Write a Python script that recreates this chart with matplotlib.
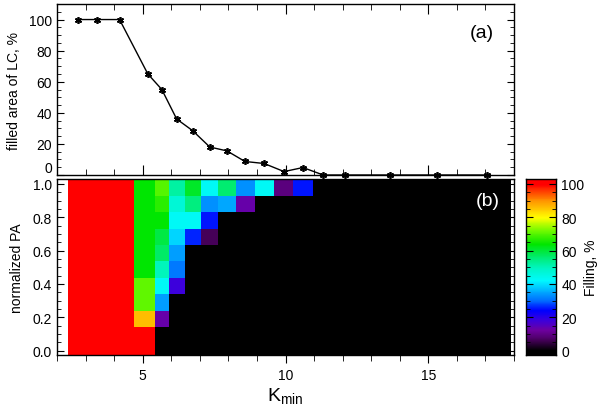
import numpy as np
import matplotlib
matplotlib.use('Agg')
import matplotlib.pyplot as plt
from matplotlib.colors import LinearSegmentedColormap, Normalize
from matplotlib.ticker import MultipleLocator

plt.rcParams['font.family'] = ['Liberation Sans', 'DejaVu Sans']
plt.rcParams['mathtext.default'] = 'regular'

# Kmin grid and filled area of the loss cone (%)
k_min = [2.72, 3.39, 4.19, 5.18, 5.67, 6.19, 6.75, 7.35, 7.95, 8.58,
         9.25, 9.95, 10.61, 11.32, 12.09, 13.67, 15.32, 17.04]
filled_area = [100, 100, 100, 65, 55, 36, 28.5, 18, 15.5, 8.7,
               7.4, 2.2, 4.8, 0, 0, 0, 0, 0]

# normalized pitch angle bins (centres)
pa = [-0.007, 0.092, 0.190, 0.289, 0.387, 0.486, 0.584, 0.683, 0.781, 0.880, 0.979]

# filling (%) per PA bin, listed from the top row (largest PA) down
filling_rows = [
    [100, 100, 100, 64, 70, 52, 61, 43, 56, 33, 43, 9, 25, 0, 0, 0, 0, 0],
    [100, 100, 100, 64, 67, 47, 55, 33, 35, 13, 0, 0, 0, 0, 0, 0, 0, 0],
    [100, 100, 100, 64, 64, 43, 43, 25, 0, 0, 0, 0, 0, 0, 0, 0, 0, 0],
    [100, 100, 100, 64, 59, 39, 26, 6, 0, 0, 0, 0, 0, 0, 0, 0, 0, 0],
    [100, 100, 100, 64, 57, 34, 0, 0, 0, 0, 0, 0, 0, 0, 0, 0, 0, 0],
    [100, 100, 100, 64, 50, 31, 0, 0, 0, 0, 0, 0, 0, 0, 0, 0, 0, 0],
    [100, 100, 100, 71, 43, 18, 0, 0, 0, 0, 0, 0, 0, 0, 0, 0, 0, 0],
    [100, 100, 100, 71, 34, 0, 0, 0, 0, 0, 0, 0, 0, 0, 0, 0, 0, 0],
    [100, 100, 100, 86, 13, 0, 0, 0, 0, 0, 0, 0, 0, 0, 0, 0, 0, 0],
    [100, 100, 100, 100, 0, 0, 0, 0, 0, 0, 0, 0, 0, 0, 0, 0, 0, 0],
    [100, 100, 100, 100, 0, 0, 0, 0, 0, 0, 0, 0, 0, 0, 0, 0, 0, 0],
]


def bin_edges(c):
    c = np.asarray(c, dtype=float)
    mid = (c[:-1] + c[1:]) / 2
    return np.concatenate([[c[0] - (c[1] - c[0]) / 2], mid,
                           [c[-1] + (c[-1] - c[-2]) / 2]])


# IDL-like rainbow with black at the bottom
nodes = [(0.00, (0, 0, 0)), (0.06, (70, 0, 90)), (0.12, (110, 0, 160)),
         (0.18, (60, 0, 220)), (0.24, (0, 0, 255)), (0.30, (0, 110, 255)),
         (0.36, (0, 180, 255)), (0.42, (0, 250, 255)), (0.50, (0, 245, 190)),
         (0.57, (0, 235, 100)), (0.64, (0, 230, 0)), (0.72, (110, 250, 0)),
         (0.80, (255, 255, 0)), (0.90, (255, 150, 0)), (1.00, (255, 0, 0))]
cmap = LinearSegmentedColormap.from_list(
    'idl_rainbow', [(p, tuple(v / 255 for v in rgb)) for p, rgb in nodes])
norm = Normalize(0, 100)

W, H = 603, 406
fig = plt.figure(figsize=(W / 100, H / 100), dpi=100)
ax1 = fig.add_axes([57 / W, 1 - 176 / H, 457 / W, 171 / H])
ax2 = fig.add_axes([57 / W, 1 - 355.7 / H, 457 / W, 175.7 / H])
cax = fig.add_axes([526 / W, 1 - 355.7 / H, 29.7 / W, 175.7 / H])

# (a) filled area vs Kmin
ax1.plot(k_min, filled_area, color='black', lw=1.0,
         marker=(6, 2, 0), ms=5, mew=1.2, clip_on=False)
ax1.set_xlim(2, 18)
ax1.set_ylim(0, 110)
ax1.set_yticks([0, 20, 40, 60, 80, 100])
ax1.yaxis.set_minor_locator(MultipleLocator(5))
ax1.xaxis.set_major_locator(MultipleLocator(5))
ax1.xaxis.set_minor_locator(MultipleLocator(1))
ax1.tick_params(which='both', direction='in', top=True, right=True,
                labelbottom=False, labelsize=10)
ax1.tick_params(axis='y', which='major', length=5)
ax1.tick_params(axis='y', which='minor', length=3)
ax1.tick_params(axis='x', which='major', length=7)
ax1.tick_params(axis='x', which='minor', length=4.5)
ax1.set_ylabel('filled area of LC, %', fontsize=10, labelpad=6)
ax1.text(0.93, 0.835, '(a)', transform=ax1.transAxes, fontsize=14,
         ha='center', va='center')
# lift the "0" label a little so it clears the 1.0 label below
ax1.get_yticklabels()[0].set_va('bottom')

# (b) filling map
grid = np.array(filling_rows[::-1], dtype=float)
ax2.pcolormesh(bin_edges(k_min), bin_edges(pa), grid, cmap=cmap, norm=norm)
ax2.set_xlim(2, 18)
ax2.set_ylim(-0.025, 1.03)
ax2.set_yticks([0.0, 0.2, 0.4, 0.6, 0.8, 1.0])
ax2.set_yticklabels(['0.0', '0.2', '0.4', '0.6', '0.8', '1.0'])
ax2.yaxis.set_minor_locator(MultipleLocator(0.05))
ax2.xaxis.set_major_locator(MultipleLocator(5))
ax2.xaxis.set_minor_locator(MultipleLocator(1))
ax2.tick_params(axis='y', which='both', direction='in', right=True, labelsize=10)
ax2.tick_params(axis='y', which='major', length=5)
ax2.tick_params(axis='y', which='minor', length=3)
ax2.tick_params(axis='x', which='both', direction='out', top=False, labelsize=10)
ax2.tick_params(axis='x', which='major', length=6)
ax2.tick_params(axis='x', which='minor', length=4)
ax2.set_ylabel('normalized PA', fontsize=10, labelpad=6)
ax2.set_xlabel('K$_{min}$', fontsize=14, labelpad=2)
ax2.text(0.943, 0.875, '(b)', transform=ax2.transAxes, fontsize=14,
         color='white', ha='center', va='center')

# colour bar
cb_vals = np.linspace(-2.5, 103, 256).reshape(-1, 1)
cax.imshow(cb_vals, cmap=cmap, norm=norm, aspect='auto', origin='lower',
           extent=[0, 1, -2.5, 103])
cax.set_xlim(0, 1)
cax.set_ylim(-2.5, 103)
cax.set_xticks([])
cax.yaxis.tick_right()
cax.set_yticks([0, 20, 40, 60, 80, 100])
cax.yaxis.set_minor_locator(MultipleLocator(5))
cax.tick_params(axis='y', which='both', direction='in', left=True, right=True,
                labelsize=10, pad=4)
cax.tick_params(axis='y', which='major', length=5)
cax.tick_params(axis='y', which='minor', length=3)
cax.text(2.2, 0.5, 'Filling, %', transform=cax.transAxes, rotation=90,
         fontsize=10, ha='center', va='center')

for a in (ax1, ax2, cax):
    for s in a.spines.values():
        s.set_linewidth(1.0)

fig.savefig('out.png', dpi=100)
